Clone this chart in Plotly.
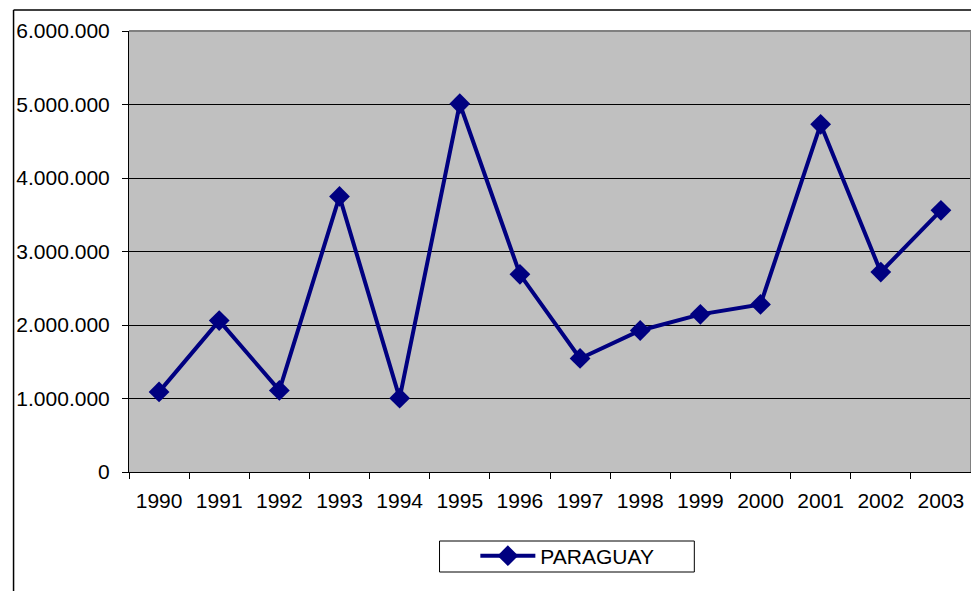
import plotly.graph_objects as go

years = ["1990", "1991", "1992", "1993", "1994", "1995", "1996",
         "1997", "1998", "1999", "2000", "2001", "2002", "2003"]
paraguay = [1090000, 2060000, 1110000, 3750000, 1005000, 5010000, 2690000,
            1545000, 1925000, 2145000, 2280000, 4730000, 2720000, 3560000]
y_ticks = [0, 1000000, 2000000, 3000000, 4000000, 5000000, 6000000]

# page offsets of the figure inside the page (default body margin)
OFFX, OFFY = 8, 8
W, H = 979 - OFFX, 591 - OFFY
L, T = 125 - OFFX, 31 - OFFY
pw, ph = 846, 441
R, B = W - L - pw, H - T - ph


def px(x):
    return (x - OFFX - L) / pw


def py(y):
    return (T + ph - (y - OFFY)) / ph


fig = go.Figure()
fig.add_trace(go.Scatter(
    x=years, y=paraguay, mode="lines+markers", name="PARAGUAY",
    line=dict(color="#000080", width=4),
    marker=dict(symbol="diamond", size=16, color="#000080"),
))

fam = "Liberation Sans, Arial, sans-serif"
font = dict(family=fam, size=21, color="black")

fig.update_layout(
    width=W, height=H,
    margin=dict(l=L, r=R, t=T, b=B),
    paper_bgcolor="white", plot_bgcolor="#C0C0C0",
    separators=",.",
    font=font,
    showlegend=True,
    legend=dict(
        x=px(473), y=py(556), xanchor="left", yanchor="middle",
        borderwidth=0, bgcolor="rgba(0,0,0,0)",
        font=dict(family=fam, size=21, color="black"),
        itemwidth=55,
    ),
    xaxis=dict(
        type="category", range=[-0.5, len(years) - 0.5],
        showgrid=False, showline=True, linecolor="black", linewidth=1,
        ticks="outside", tickson="boundaries", ticklen=6, tickcolor="black",
        ticklabelstandoff=10, zeroline=False,
    ),
    yaxis=dict(
        range=[0, 6000000], tickvals=y_ticks, tickformat=",d",
        showgrid=True, gridcolor="black", gridwidth=1,
        showline=True, linecolor="black", linewidth=1,
        ticks="outside", ticklen=6, tickcolor="black",
        ticklabelstandoff=8, zeroline=False,
    ),
    shapes=[
        dict(type="line", xref="paper", yref="paper", x0=0, x1=1, y0=1, y1=1,
             line=dict(color="#808080", width=2), layer="above"),
        dict(type="line", xref="paper", yref="paper", x0=1, x1=1, y0=0, y1=1,
             line=dict(color="#808080", width=2), layer="above"),
        # outer chart border (top and left visible)
        dict(type="line", xref="paper", yref="paper",
             x0=px(9), x1=px(990), y0=py(10), y1=py(10),
             line=dict(color="black", width=1.5), layer="above"),
        dict(type="line", xref="paper", yref="paper",
             x0=px(9), x1=px(9), y0=py(10), y1=py(600),
             line=dict(color="black", width=1.5), layer="above"),
        # legend box
        dict(type="rect", xref="paper", yref="paper",
             x0=px(437), x1=px(693), y0=py(572), y1=py(541),
             line=dict(color="black", width=1), fillcolor="white", layer="below"),
    ],
)

fig.write_html("out.html")
